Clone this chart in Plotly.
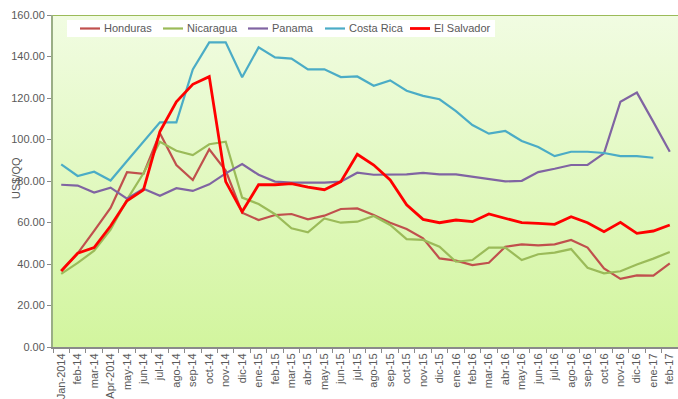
import plotly.graph_objects as go

# Monthly prices, US$/QQ
months = ["Jan-2014", "feb-14", "mar-14", "Apr-2014", "may-14", "jun-14", "jul-14", "ago-14",
          "sep-14", "oct-14", "nov-14", "dic-14", "ene-15", "feb-15", "mar-15", "abr-15",
          "may-15", "jun-15", "jul-15", "ago-15", "sep-15", "oct-15", "nov-15", "dic-15",
          "ene-16", "feb-16", "mar-16", "abr-16", "may-16", "jun-16", "jul-16", "ago-16",
          "sep-16", "oct-16", "nov-16", "dic-16", "ene-17", "feb-17"]

honduras = [36.6, 45.1, 56.0, 67.0, 84.2, 83.4, 103.0, 87.7, 80.5, 95.3, 85.0, 64.7, 61.2,
            63.6, 64.1, 61.5, 63.3, 66.5, 66.8, 63.6, 59.9, 56.9, 52.4, 42.7, 41.6, 39.5,
            40.6, 48.3, 49.5, 49.0, 49.5, 51.6, 47.9, 37.9, 32.8, 34.5, 34.4, 40.3]
nicaragua = [35.2, 40.5, 46.4, 56.5, 71.0, 83.7, 98.9, 94.6, 92.5, 97.7, 98.9, 72.0, 68.9,
             64.0, 57.2, 55.3, 62.0, 59.9, 60.4, 63.1, 58.8, 52.0, 51.6, 48.3, 41.1, 41.9,
             47.9, 47.9, 41.9, 44.7, 45.5, 47.2, 38.2, 35.5, 36.5, 39.8, 42.6, 45.8]
panama = [78.2, 77.8, 74.4, 76.8, 71.5, 76.3, 72.9, 76.5, 75.2, 78.4, 83.7, 88.2, 83.0,
          79.7, 79.2, 79.2, 79.2, 79.7, 84.0, 83.0, 83.2, 83.2, 83.9, 83.2, 83.2, 82.1,
          80.8, 79.8, 80.1, 84.3, 85.9, 87.7, 87.7, 93.3, 118.2, 122.6, 108.5, 94.1]
costa_rica = [88.0, 82.4, 84.5, 80.2, 89.6, 99.0, 108.3, 108.3, 133.8, 146.8, 146.8, 130.0,
              144.4, 139.6, 139.0, 133.8, 133.8, 130.1, 130.4, 125.9, 128.5, 123.5, 121.0,
              119.4, 113.7, 107.0, 102.8, 104.1, 99.3, 96.4, 92.0, 94.1, 94.1, 93.5, 92.0,
              92.0, 91.2, None]
el_salvador = [36.6, 45.2, 47.9, 58.3, 70.5, 75.7, 103.8, 118.2, 126.6, 130.3, 79.7, 65.2,
               78.2, 78.2, 78.7, 77.0, 75.8, 79.7, 92.9, 87.7, 80.5, 68.5, 61.5, 59.9, 61.2,
               60.4, 64.1, 62.0, 59.9, 59.6, 59.1, 62.8, 59.9, 55.6, 60.1, 54.8, 55.9, 58.8]

series = [
    ("Honduras", honduras, "#C0504D", 2.2),
    ("Nicaragua", nicaragua, "#9BBB59", 2.2),
    ("Panama", panama, "#8064A2", 2.2),
    ("Costa Rica", costa_rica, "#4BACC6", 2.2),
    ("El Salvador", el_salvador, "#FF0000", 2.8),
]

W, H = 678, 399
ML, MR, MT, MB = 53, 0, 15, 52
PW, PH = W - ML - MR, H - MT - MB


def px_x(p):
    """pixel column -> paper x"""
    return (p - ML) / PW


def px_y(p):
    """pixel row -> paper y"""
    return (H - MB - p) / PH


x = list(range(len(months)))
y_max = 160
font = "Liberation Sans"
grey = "#595959"

fig = go.Figure()

# gradient plot background
fig.add_trace(go.Scatter(
    x=[-0.5, len(months) - 0.5], y=[y_max, y_max], mode="lines",
    line=dict(width=0), fill="tozeroy",
    fillgradient=dict(type="vertical",
                      colorscale=[[0, "#D2F59E"], [1, "#F1FCE2"]]),
    hoverinfo="skip", showlegend=False,
))

for name, vals, color, width in series:
    fig.add_trace(go.Scatter(
        x=x, y=vals, name=name, mode="lines", showlegend=False,
        line=dict(color=color, width=width),
    ))

# top border of the plot area
fig.add_shape(type="line", xref="paper", yref="y", x0=0, x1=1, y0=y_max, y1=y_max,
              line=dict(color="#9BBB59", width=2))

# legend box drawn inside the plot
leg_top, leg_bottom, leg_mid = 20, 37, 28.5
fig.add_shape(type="rect", xref="paper", yref="paper",
              x0=px_x(67), x1=px_x(495), y0=px_y(leg_bottom), y1=px_y(leg_top),
              fillcolor="white", line=dict(width=0), layer="above")
entry_x = [80, 163, 248, 325, 410]
for (name, _, color, width), ex in zip(series, entry_x):
    fig.add_shape(type="line", xref="paper", yref="paper",
                  x0=px_x(ex), x1=px_x(ex + 20), y0=px_y(leg_mid), y1=px_y(leg_mid),
                  line=dict(color=color, width=width), layer="above")
    fig.add_annotation(xref="paper", yref="paper", x=px_x(ex + 22), y=px_y(leg_mid),
                       text=name, showarrow=False, xanchor="left", yanchor="middle",
                       font=dict(family=font, size=11, color=grey))

# y-axis title
fig.add_annotation(xref="paper", yref="paper", x=px_x(16), y=px_y(178),
                   text="US$/QQ", textangle=-90, showarrow=False,
                   xanchor="center", yanchor="middle",
                   font=dict(family=font, size=11, color=grey))

fig.update_layout(
    width=W, height=H,
    margin=dict(l=ML, r=MR, t=MT, b=MB, autoexpand=False),
    paper_bgcolor="white", plot_bgcolor="white",
    font=dict(family=font, size=11, color=grey),
    showlegend=False,
    xaxis=dict(
        range=[-0.5, len(months) - 0.5], tickmode="array", tickvals=x, ticktext=months,
        tickangle=-90, ticks="", showgrid=False, zeroline=False,
        showline=True, linecolor="#8A8A8A", linewidth=2,
        tickfont=dict(size=11, color=grey),
        minor=dict(tickmode="array", tickvals=[i - 0.5 for i in range(len(months) + 1)],
                   ticks="outside", ticklen=4, tickcolor="#8A8A8A", showgrid=False),
        automargin=False,
    ),
    yaxis=dict(
        range=[0, y_max], dtick=20, tickformat=".2f", ticks="outside", ticklen=4,
        tickcolor="#8A8A8A", showgrid=False, zeroline=False,
        showline=True, linecolor="#9AAE86", linewidth=2,
        tickfont=dict(size=11, color=grey),
        automargin=False,
    ),
)

fig.write_html("out.html")
